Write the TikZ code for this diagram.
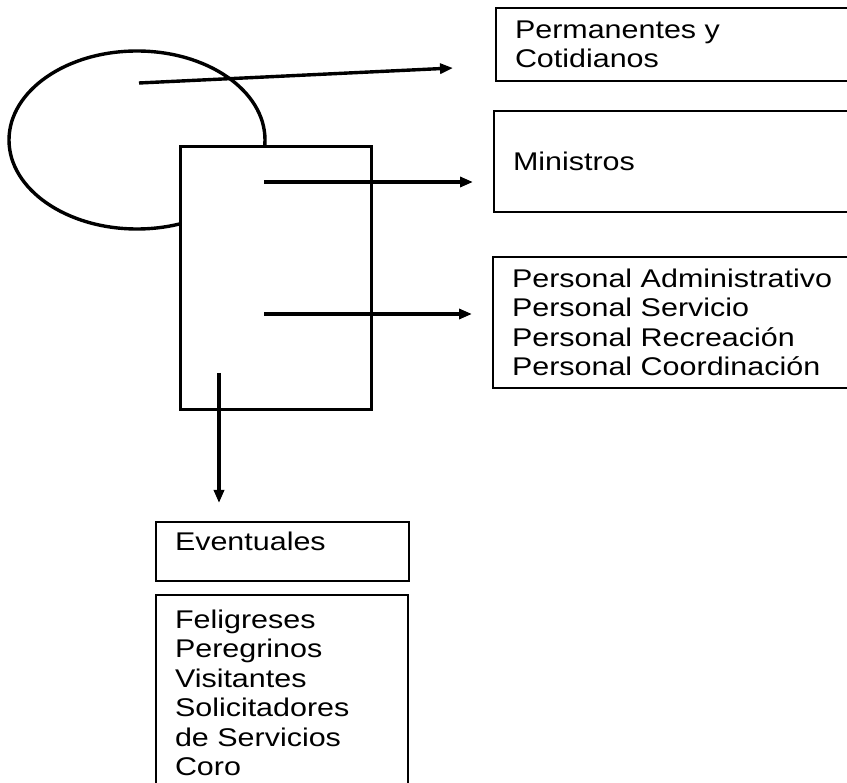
\documentclass[tikz,border=0pt]{standalone}
\usepackage{fontspec}
\setmainfont{Liberation Sans}[FakeStretch=1.19]
\usetikzlibrary{arrows.meta, positioning}

\begin{document}
\begin{tikzpicture}[
      x=1pt, y=-1pt,
      bx/.style={draw, line width=2pt, anchor=north west, align=left,
                 inner xsep=19pt, inner ysep=4pt,
                 font=\fontsize{25.6}{29.5}\selectfont},
      thk/.style={line width=3.4pt},
      ar/.style={-{Triangle[length=13pt,width=10pt]}, line width=3.4pt},
    ]
    \useasboundingbox (0,0) rectangle (847,783);

    % ellipse behind the main block
    \draw[thk] (137,140) ellipse [x radius=128pt, y radius=89pt];
    \node[draw, thk, fill=white, anchor=north west,
          minimum width=191pt, minimum height=263pt] (core) at (179,145) {};

    % right column
    \node[bx, text width=337pt, minimum height=73pt] (perm) at (495,7)
      {Permanentes y\\Cotidianos};
    \node[bx, text width=337pt, minimum height=101pt] (mins) at (493,110)
      {Ministros};
    \node[bx, text width=337pt, minimum height=131pt] (pers) at (492,256)
      {Personal Administrativo\\Personal Servicio\\Personal Recreación\\Personal Coordinación};

    % bottom column
    \node[bx, text width=215pt, minimum height=59pt, text depth=20pt] (evt) at (155,521)
      {Eventuales};
    \node[bx, text width=214pt, minimum height=196pt] (lst) at (155,594)
      {Feligreses\\Peregrinos\\Visitantes\\Solicitadores\\de Servicios\\Coro};

    \coordinate (s1) at (139,83);
    \coordinate (t1) at (453,68);
    \coordinate (s2) at (264,182);
    \coordinate (s3) at (264,314);
    \coordinate (s4) at (219,373);

    \draw[ar] (s1) -- (t1);
    \draw[ar, shorten >=20pt] (s2) -- (mins.west |- s2);
    \draw[ar, shorten >=20pt] (s3) -- (pers.west |- s3);
    \draw[ar, shorten >=18pt] (s4) -- (evt.north -| s4);
  \end{tikzpicture}
\end{document}
